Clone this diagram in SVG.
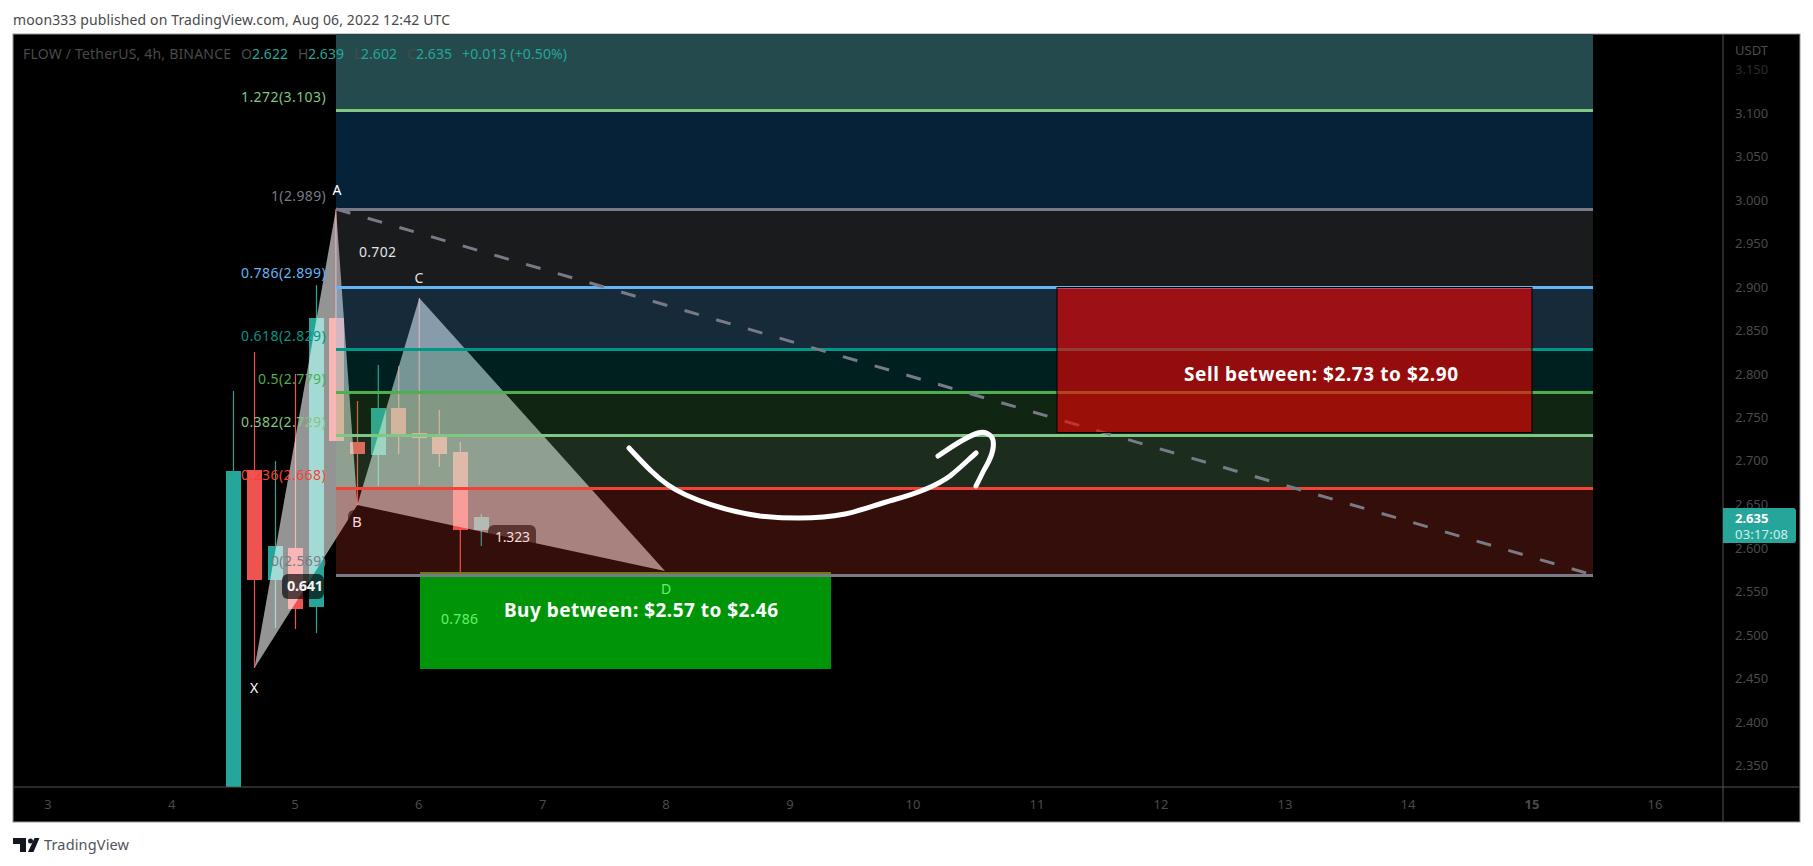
<svg xmlns="http://www.w3.org/2000/svg" width="1813" height="866" viewBox="0 0 1813 866">
<style>
text{font-family:"Noto Sans","Open Sans","Liberation Sans",sans-serif}
.ax{font-size:13px;fill:#4a4a4a}
.tm{font-size:13px;fill:#4a4a4a;text-anchor:middle}
.fib{font-size:14px;text-anchor:end}
.lv{stroke-width:3;fill:none}
.up{fill:#26a69a}.dn{fill:#ef5350}
.wu{stroke:#26a69a;stroke-width:1.2}.wd{stroke:#ef5350;stroke-width:1.2}
.b{font-size:19px;font-weight:700;fill:#fff}
.pl{fill:#000;fill-opacity:.66}
</style>
<rect width="1813" height="866" fill="#fff"/>
<text x="13" y="25" font-size="14" fill="#4a4a4a" textLength="437">moon333 published on TradingView.com, Aug 06, 2022 12:42 UTC</text>
<rect x="13" y="34" width="1787" height="788" fill="#000" stroke="#9598a1" stroke-width="1"/>
<g id="candles">
<g class="wu"><line x1="233.5" y1="391" x2="233.5" y2="471"/><line x1="275.5" y1="461" x2="275.5" y2="628"/><line x1="316.5" y1="285" x2="316.5" y2="633"/><line x1="378.3" y1="365" x2="378.3" y2="486"/><line x1="481.3" y1="514" x2="481.3" y2="546"/></g>
<g class="wd"><line x1="254.5" y1="352" x2="254.5" y2="668"/><line x1="295.5" y1="374" x2="295.5" y2="629"/><line x1="336" y1="209" x2="336" y2="441"/><line x1="357.5" y1="401" x2="357.5" y2="505"/><line x1="398.7" y1="366" x2="398.7" y2="454"/><line x1="419.3" y1="298" x2="419.3" y2="485"/><line x1="439.3" y1="410" x2="439.3" y2="467"/><line x1="460.3" y1="442" x2="460.3" y2="573"/></g>
<rect class="up" x="226" y="471" width="15" height="316"/>
<rect class="dn" x="247" y="470" width="15" height="110"/>
<rect class="up" x="268" y="546" width="15" height="34"/>
<rect class="dn" x="288" y="548" width="15" height="61"/>
<rect class="up" x="309" y="318" width="15" height="289"/>
<rect class="dn" x="329" y="318" width="15" height="123"/>
<rect class="dn" x="350" y="442" width="15" height="12"/>
<rect class="up" x="371" y="408" width="15" height="47"/>
<rect class="dn" x="391" y="408" width="15" height="26"/>
<rect class="dn" x="412" y="433" width="15" height="5"/>
<rect class="dn" x="432" y="437" width="15" height="17"/>
<rect class="dn" x="453" y="452" width="15" height="78"/>
<rect class="up" x="474" y="517" width="15" height="13"/>
</g>
<g id="harmonic-pattern">
<polygon points="254.5,668 336,209 357.3,505" fill="#fff" fill-opacity=".58"/>
<polygon points="357.3,505 419.3,298 665,571" fill="#fff" fill-opacity=".58"/>
<rect class="pl" x="282" y="574" width="42" height="25" rx="6"/>
<rect class="pl" x="488" y="525" width="48" height="25" rx="6"/>
<rect class="pl" x="348" y="510" width="20" height="25" rx="6"/>
<text x="419" y="283" font-size="14" fill="#fff" text-anchor="middle">C</text>
<text x="357" y="527" font-size="15" fill="#fff" text-anchor="middle">B</text>
<text x="254" y="693" font-size="14" fill="#fff" text-anchor="middle">X</text>
<text x="666" y="594" font-size="14" fill="#fff" text-anchor="middle">D</text>
<text x="359" y="257" font-size="14" fill="#fff" textLength="37">0.702</text>
<text x="287" y="591" font-size="14.5" font-weight="700" fill="#f4f4f4" textLength="36">0.641</text>
<text x="495" y="542" font-size="14" fill="#fff" textLength="35">1.323</text>
<text x="441" y="624" font-size="14" fill="#fff" textLength="37">0.786</text>
</g>
<g id="buy-zone"><rect x="420" y="572" width="411" height="97" fill="#00ec0d" fill-opacity=".63"/><rect x="420" y="572" width="411" height="3" fill="#4a8a12"/></g>
<g id="fib-bands">
<rect x="336" y="34" width="1257" height="76" fill="#244a4d"/>
<rect x="336" y="110" width="1257" height="99" fill="#062238"/>
<rect x="336" y="209" width="1257" height="78" fill="#787b86" fill-opacity=".22"/>
<rect x="336" y="287" width="1257" height="62" fill="#64b5f6" fill-opacity=".23"/>
<rect x="336" y="349" width="1257" height="43" fill="#00a09a" fill-opacity=".2"/>
<rect x="336" y="392" width="1257" height="43" fill="#4caf50" fill-opacity=".22"/>
<rect x="336" y="435" width="1257" height="53" fill="#81c784" fill-opacity=".22"/>
<rect x="336" y="488" width="1257" height="87" fill="#f44336" fill-opacity=".21"/>
</g>
<g id="fib-lines">
<line class="lv" x1="336" y1="110.5" x2="1593" y2="110.5" stroke="#81c784"/>
<line class="lv" x1="336" y1="209.5" x2="1593" y2="209.5" stroke="#787b86"/>
<line class="lv" x1="336" y1="287.5" x2="1593" y2="287.5" stroke="#64b5f6"/>
<line class="lv" x1="336" y1="349.5" x2="1593" y2="349.5" stroke="#009688"/>
<line class="lv" x1="336" y1="392.5" x2="1593" y2="392.5" stroke="#4caf50"/>
<line class="lv" x1="336" y1="435.5" x2="1593" y2="435.5" stroke="#81c784"/>
<line class="lv" x1="336" y1="488.5" x2="1593" y2="488.5" stroke="#f44336"/>
<line class="lv" x1="336" y1="575.5" x2="1593" y2="575.5" stroke="#787b86"/>
</g>
<text x="337" y="195" font-size="14" fill="#fff" text-anchor="middle">A</text>
<g id="connectors"><line x1="336" y1="209" x2="1593" y2="575" stroke="#787b86" stroke-width="3" stroke-dasharray="15 18"/></g>
<g id="fib-labels">
<text class="fib" x="325.7" y="102" fill="#81c784" textLength="84.7">1.272(3.103)</text>
<text class="fib" x="325.7" y="201" fill="#787b86" textLength="54.7">1(2.989)</text>
<text class="fib" x="325.7" y="278" fill="#64b5f6" textLength="84.7">0.786(2.899)</text>
<text class="fib" x="325.7" y="341" fill="#009688" textLength="84.7">0.618(2.829)</text>
<text class="fib" x="325.7" y="384" fill="#4caf50" textLength="67.7">0.5(2.779)</text>
<text class="fib" x="325.7" y="427" fill="#81c784" textLength="84.7">0.382(2.729)</text>
<text class="fib" x="325.7" y="480" fill="#f44336" textLength="84.7">0.236(2.668)</text>
<text class="fib" x="325.7" y="566" fill="#787b86" textLength="54.7">0(2.569)</text>
</g>
<g id="sell-zone"><rect x="1057" y="287.5" width="475" height="145" fill="#f70000" fill-opacity=".6" stroke="#000" stroke-width="1"/></g>
<text class="b" x="504" y="617" textLength="274">Buy between: $2.57 to $2.46</text>
<text class="b" x="1184" y="381" textLength="274">Sell between: $2.73 to $2.90</text>
<g id="hand-arrow" fill="none" stroke="#fff" stroke-width="5" stroke-linecap="round" stroke-linejoin="round">
<path d="M629 448C645 465 655 476 668 485C690 500 730 512 760 516C790 519 820 519 845 514C860 511 875 505 893 500C915 494 935 487 950 476C960 468 968 460 976 453"/>
<path d="M938 456C950 448 965 437 978 433C985 431 991 434 993 440C995 450 990 460 984 470L976 486"/>
</g>
<g id="legend">
<text x="23" y="59" font-size="14" fill="#4a4a4a" textLength="208">FLOW / TetherUS, 4h, BINANCE</text>
<text x="241" y="59" font-size="14" fill="#4a4a4a">O</text><text x="252" y="59" font-size="14" fill="#26a69a" textLength="36">2.622</text>
<text x="298" y="59" font-size="14" fill="#4a4a4a">H</text><text x="308" y="59" font-size="14" fill="#26a69a" textLength="36">2.639</text>
<text x="354" y="59" font-size="14" fill="#4a4a4a">L</text><text x="361" y="59" font-size="14" fill="#26a69a" textLength="36">2.602</text>
<text x="407" y="59" font-size="14" fill="#4a4a4a">C</text><text x="416" y="59" font-size="14" fill="#26a69a" textLength="36">2.635</text>
<text x="462" y="59" font-size="14" fill="#26a69a" textLength="105">+0.013 (+0.50%)</text>
</g>
<g id="price-axis">
<line x1="1723" y1="34" x2="1723" y2="822" stroke="#555"/>
<text class="ax" x="1735" y="55">USDT</text>
<text class="ax" x="1735" y="74" opacity=".6">3.150</text>
<text class="ax" x="1735" y="118">3.100</text>
<text class="ax" x="1735" y="161">3.050</text>
<text class="ax" x="1735" y="205">3.000</text>
<text class="ax" x="1735" y="248">2.950</text>
<text class="ax" x="1735" y="292">2.900</text>
<text class="ax" x="1735" y="335">2.850</text>
<text class="ax" x="1735" y="379">2.800</text>
<text class="ax" x="1735" y="422">2.750</text>
<text class="ax" x="1735" y="465">2.700</text>
<text class="ax" x="1735" y="509">2.650</text>
<text class="ax" x="1735" y="553">2.600</text>
<text class="ax" x="1735" y="596">2.550</text>
<text class="ax" x="1735" y="640">2.500</text>
<text class="ax" x="1735" y="683">2.450</text>
<text class="ax" x="1735" y="727">2.400</text>
<text class="ax" x="1735" y="770">2.350</text>
<path d="M1723 508H1793a3 3 0 0 1 3 3V540a3 3 0 0 1-3 3H1723Z" fill="#26a69a"/>
<text x="1735" y="523" font-size="13" font-weight="700" fill="#fff">2.635</text>
<text x="1735" y="539" font-size="13" fill="#d4f0ed" textLength="53">03:17:08</text>
</g>
<g id="time-axis">
<line x1="13" y1="787" x2="1800" y2="787" stroke="#555"/>
<text class="tm" x="48" y="809">3</text><text class="tm" x="171.6" y="809">4</text><text class="tm" x="295" y="809">5</text><text class="tm" x="418.7" y="809">6</text><text class="tm" x="542.7" y="809">7</text><text class="tm" x="666" y="809">8</text><text class="tm" x="790" y="809">9</text><text class="tm" x="913" y="809">10</text><text class="tm" x="1037" y="809">11</text><text class="tm" x="1161" y="809">12</text><text class="tm" x="1285" y="809">13</text><text class="tm" x="1408" y="809">14</text><text class="tm" x="1532" y="809" style="font-weight:700">15</text><text class="tm" x="1655" y="809">16</text>
</g>
<g id="watermark">
<path d="M13 838H26V852H20V844H13ZM34.5 838H39.5L33.5 852H28Z" fill="#131722"/><circle cx="30.5" cy="841" r="2.5" fill="#131722"/>
<text x="44" y="850" font-size="14.5" fill="#50535e" textLength="85">TradingView</text>
</g>
</svg>
